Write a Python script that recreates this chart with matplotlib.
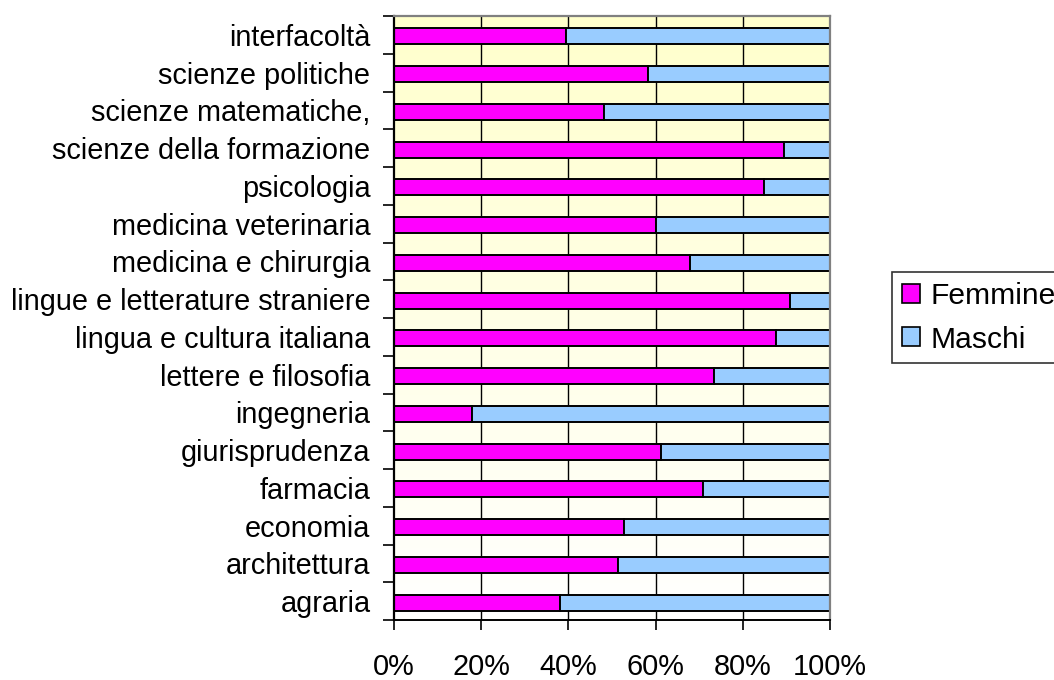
import matplotlib
matplotlib.use("Agg")
import matplotlib.pyplot as plt
import numpy as np
from matplotlib.patches import Patch

plt.rcParams['font.family'] = ['Liberation Sans', 'DejaVu Sans']

categories = ["agraria", "architettura", "economia", "farmacia", "giurisprudenza",
              "ingegneria", "lettere e filosofia", "lingua e cultura italiana",
              "lingue e letterature straniere", "medicina e chirurgia",
              "medicina veterinaria", "psicologia", "scienze della formazione",
              "scienze matematiche,", "scienze politiche", "interfacoltà"]
femmine = [38.1, 51.4, 52.8, 70.8, 61.2, 18.0, 73.5, 87.7,
           90.9, 67.9, 60.0, 84.9, 89.5, 48.2, 58.3, 39.4]
maschi = [61.9, 48.6, 47.2, 29.2, 38.8, 82.0, 26.5, 12.3,
          9.1, 32.1, 40.0, 15.1, 10.5, 51.8, 41.7, 60.6]
xticks = [0, 20, 40, 60, 80, 100]
xticklabels = ["0%", "20%", "40%", "60%", "80%", "100%"]
series_names = ["Femmine", "Maschi"]
colors = ["#FF00FF", "#99CCFF"]

W, H = 1054, 680
fig = plt.figure(figsize=(W/100, H/100), dpi=100)
ax = fig.add_axes([394/W, 1-620/H, (830-394)/W, (620-16)/H])

n = len(categories)
y = np.arange(n)
ax.set_xlim(0, 100)
ax.set_ylim(-0.5, n-0.5)

# gradient background
grad = np.linspace(0, 1, 256).reshape(-1, 1)
c_top = np.array([1.0, 1.0, 0.80])
c_bot = np.array([1.0, 1.0, 1.0])
img = c_bot[None, None, :] * (1-grad[..., None]) + c_top[None, None, :] * grad[..., None]
ax.imshow(img, extent=[0, 100, -0.5, n-0.5], origin='lower', aspect='auto', zorder=0)

for xv in xticks[1:-1]:
    ax.axvline(xv, color='black', lw=1.0, zorder=1)

tot = np.array(femmine) + np.array(maschi)
fp = np.array(femmine) / tot * 100
mp = np.array(maschi) / tot * 100
ax.barh(y - 0.04, fp, height=0.42, color=colors[0], edgecolor='black', linewidth=1.4, zorder=2)
ax.barh(y - 0.04, mp, left=fp, height=0.42, color=colors[1], edgecolor='black', linewidth=1.4, zorder=2)

FS = 20.8
ax.set_yticks(y)
ax.set_yticklabels(categories, fontsize=FS)
ax.tick_params(axis='y', which='major', length=0, pad=17)
ax.set_yticks(np.arange(-0.5, n, 1), minor=True)
ax.tick_params(axis='y', which='minor', length=8, width=1.2, direction='out', color='black')

ax.set_xticks(xticks)
ax.set_xticklabels(xticklabels, fontsize=FS)
ax.tick_params(axis='x', which='major', length=7.5, width=1.2, direction='out', pad=16)

ax.spines['left'].set_linewidth(1.6)
ax.spines['bottom'].set_linewidth(1.4)
ax.spines['top'].set_color('#808080')
ax.spines['right'].set_color('#808080')
ax.spines['top'].set_linewidth(1.6)
ax.spines['right'].set_linewidth(1.6)

LFS = 21.6
handles = [Patch(facecolor=colors[0], edgecolor='black', linewidth=1.2, label=series_names[0]),
           Patch(facecolor=colors[1], edgecolor='black', linewidth=1.2, label=series_names[1])]
leg = fig.legend(handles=handles, loc='upper left', bbox_to_anchor=(892/W, 1-272/H),
                 fontsize=LFS, frameon=True, fancybox=False, edgecolor='black',
                 handlelength=0.6, handleheight=0.6, handletextpad=0.36,
                 borderpad=0.33, labelspacing=0.52, borderaxespad=0)
leg.get_frame().set_linewidth(1.2)

fig.savefig("out.png", dpi=100)
